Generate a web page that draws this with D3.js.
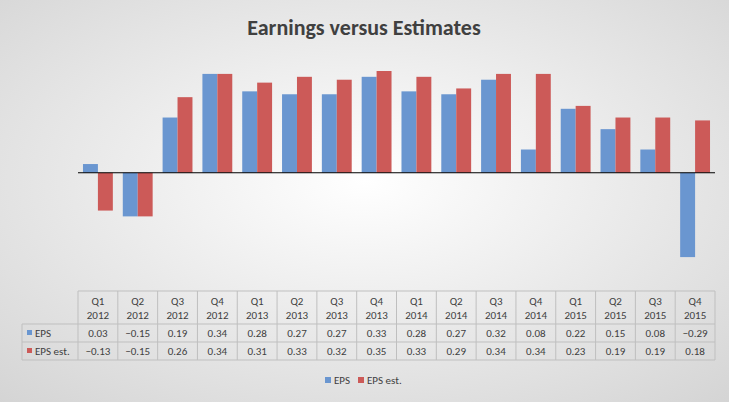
<!DOCTYPE html>
<html><head><meta charset="utf-8">
<script src="https://cdn.jsdelivr.net/npm/d3@7"></script>
<style>body{margin:0}svg{display:block;font-family:Calibri,Carlito,"Liberation Sans",sans-serif}</style>
</head><body><div class="container"></div>
<script>
const quarters = ["Q1","Q2","Q3","Q4","Q1","Q2","Q3","Q4","Q1","Q2","Q3","Q4","Q1","Q2","Q3","Q4"]
const years = ["2012","2012","2012","2012","2013","2013","2013","2013","2014","2014","2014","2014","2015","2015","2015","2015"]
const eps = [0.03,-0.15,0.19,0.34,0.28,0.27,0.27,0.33,0.28,0.27,0.32,0.08,0.22,0.15,0.08,-0.29]
const epsEst = [-0.13,-0.15,0.26,0.34,0.31,0.33,0.32,0.35,0.33,0.29,0.34,0.34,0.23,0.19,0.19,0.18]
const seriesNames = ["EPS","EPS est."]
const colors = ["#6a96d0","#cc5a58"]

const width = 729, height = 402
const svg = d3.select('.container').append('svg').attr('width', width).attr('height', height)
const defs = svg.append('defs')
const grad = defs.append('radialGradient').attr('id','bg').attr('cx','50%').attr('cy','45%').attr('r','75%')
grad.append('stop').attr('offset','0%').attr('stop-color','#ffffff')
grad.append('stop').attr('offset','100%').attr('stop-color','#d4d4d4')
svg.append('rect').attr('width', width).attr('height', height).attr('fill','url(#bg)')

svg.append('text').attr('x', 364).attr('y', 35).attr('text-anchor','middle')
  .style('font-size','22px').style('font-weight','bold').attr('fill','#404040')
  .text('Earnings versus Estimates')

const left = 78, right = 715
const idx = d3.range(eps.length)
const x = d3.scaleBand().domain(idx).range([left, right])
const y = d3.scaleLinear().domain([-0.3, 0.35]).range([260, 71])
const bw = x.bandwidth() * 0.375
const off = (x.bandwidth() - 2 * bw) / 2

const series = [eps, epsEst]
series.forEach((vals, s) => {
  svg.append('g').selectAll('rect').data(vals).join('rect')
    .attr('x', (d, i) => x(i) + off + s * bw)
    .attr('width', bw)
    .attr('y', d => y(Math.max(0, d)))
    .attr('height', d => Math.abs(y(d) - y(0)))
    .attr('fill', colors[s])
})
svg.append('line').attr('x1', left).attr('x2', right).attr('y1', y(0)).attr('y2', y(0))
  .attr('stroke', '#000').attr('stroke-width', 1.2)

// data table
const rows = [291, 324, 342, 360]
const labelLeft = 22
const g = svg.append('g').attr('stroke', '#bfbfbf').attr('stroke-width', 1)
g.append('line').attr('x1', left).attr('x2', right).attr('y1', rows[0]).attr('y2', rows[0])
rows.slice(1).forEach(r => g.append('line').attr('x1', labelLeft).attr('x2', right).attr('y1', r).attr('y2', r))
g.append('line').attr('x1', labelLeft).attr('x2', labelLeft).attr('y1', rows[1]).attr('y2', rows[3])
idx.concat([idx.length]).forEach(i => {
  const xx = i < idx.length ? x(i) : right
  g.append('line').attr('x1', xx).attr('x2', xx).attr('y1', rows[0]).attr('y2', rows[3])
})
const t = svg.append('g').attr('fill', '#404040').style('font-size', '11px').attr('text-anchor', 'middle')
idx.forEach(i => {
  const cx = x(i) + x.bandwidth() / 2
  t.append('text').attr('x', cx).attr('y', 305).text(quarters[i])
  t.append('text').attr('x', cx).attr('y', 319).text(years[i])
  t.append('text').attr('x', cx).attr('y', 337).text(eps[i].toFixed(2).replace('-', '\u2212'))
  t.append('text').attr('x', cx).attr('y', 355).text(epsEst[i].toFixed(2).replace('-', '\u2212'))
})
seriesNames.forEach((n, s) => {
  const ry = rows[1 + s]
  svg.append('rect').attr('x', 27).attr('y', ry + 6).attr('width', 5).attr('height', 5).attr('fill', colors[s])
  svg.append('text').attr('x', 35).attr('y', ry + 13).style('font-size', '11px').attr('fill', '#404040').text(n)
})

// legend
const lg = svg.append('g')
const lx = [325, 358]
seriesNames.forEach((n, s) => {
  lg.append('rect').attr('x', lx[s]).attr('y', 377).attr('width', 6).attr('height', 6).attr('fill', colors[s])
  lg.append('text').attr('x', lx[s] + 9).attr('y', 384).style('font-size', '11px').attr('fill', '#404040').text(n)
})
</script></body></html>
